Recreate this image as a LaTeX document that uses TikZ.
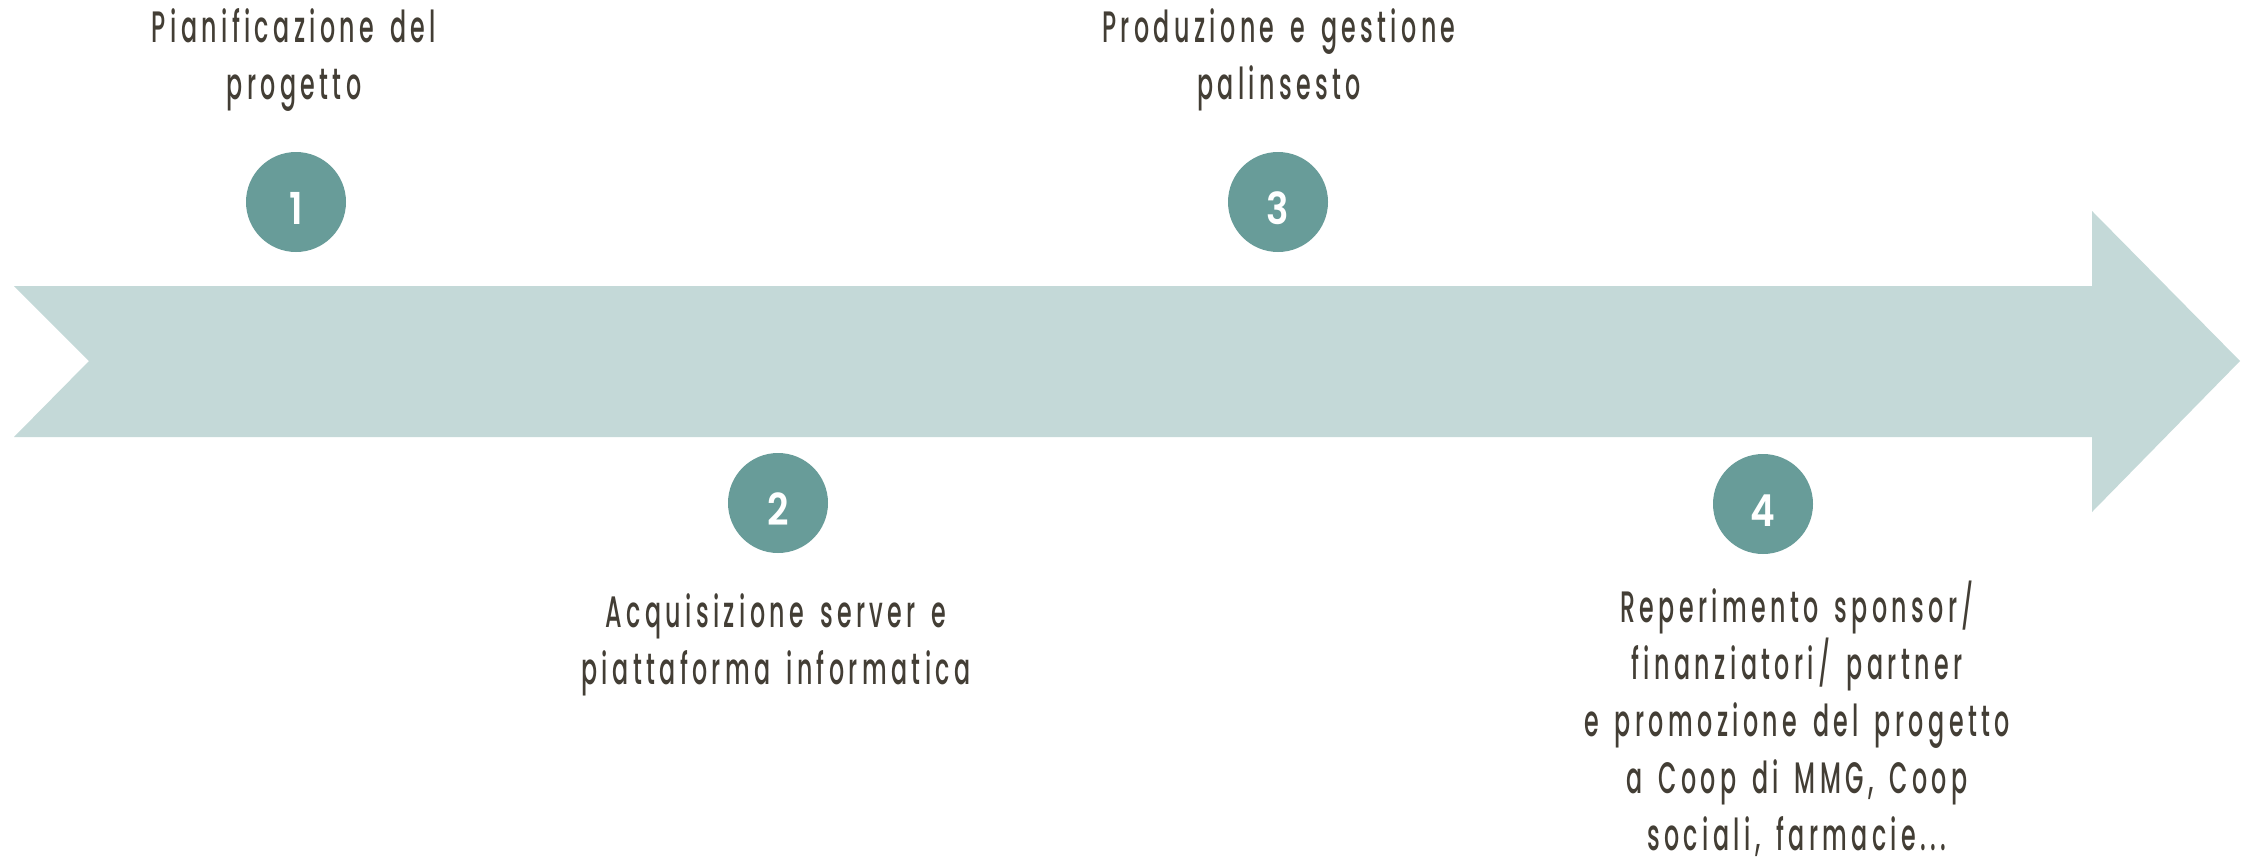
\documentclass[tikz,border=0pt]{standalone}
\usepackage{fontspec}
\usetikzlibrary{calc}
\newfontfamily\lblfont{Poppins Medium}[FakeStretch=0.54, LetterSpace=10, WordSpace=1.5]
\newfontfamily\numfont{Poppins SemiBold}[FakeStretch=0.85]
\definecolor{arrowcol}{HTML}{C4D9D8}
\definecolor{circcol}{HTML}{689C99}
\definecolor{txtcol}{HTML}{433E35}
\tikzset{
  stepcirc/.style={circle, fill=circcol, minimum size=100pt, inner sep=0pt},
  stepnum/.style={text=white, font={\numfont\fontsize{44}{44}\selectfont}, inner sep=0pt, anchor=base},
  steplbl/.style={text=txtcol, align=center, font={\lblfont\fontsize{44}{57}\selectfont}, inner sep=0pt, anchor=base}
}
\begin{document}
\begin{tikzpicture}[x=1pt, y=-1pt]
\useasboundingbox (0,0) rectangle (2255,862);
\fill[white] (0,0) rectangle (2255,862);
% timeline arrow
\fill[arrowcol] (14,286) -- (2092,286) -- (2092,211) -- (2240,361) -- (2092,512)
  -- (2092,437) -- (14,437) -- (89,361) -- cycle;
% circles
\node[stepcirc] (c1) at (296,202) {};
\node[stepcirc] (c2) at (778,503) {};
\node[stepcirc] (c3) at (1278,202) {};
\node[stepcirc] (c4) at (1763,504) {};
\node[stepnum] (n1) at ($(c1.center)+(0,22)$) {1};
\node[stepnum] (n2) at ($(c2.center)+(0,22)$) {2};
\node[stepnum] (n3) at ($(c3.center)+(0,22)$) {3};
\node[stepnum] (n4) at ($(c4.center)+(0,22)$) {4};
% labels (anchor base = last line's baseline)
\node[steplbl] (t1) at (294,99) {Pianificazione del\\progetto};
\node[steplbl] (t2) at (776,684) {Acquisizione server e\\piattaforma informatica};
\node[steplbl] (t3) at (1279,99) {Produzione e gestione\\palinsesto};
\node[steplbl] (t4) at (1797,850) {Reperimento sponsor/\\finanziatori/ partner\\e promozione del progetto\\a Coop di MMG, Coop\\sociali, farmacie...};
\end{tikzpicture}
\end{document}
